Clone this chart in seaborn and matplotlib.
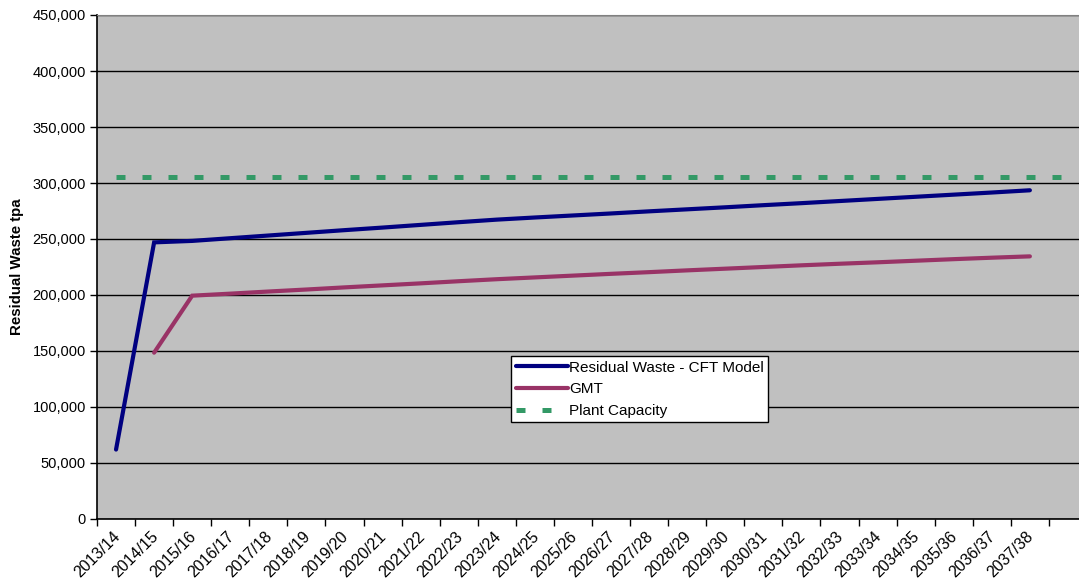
import matplotlib
matplotlib.use("Agg")
import matplotlib.pyplot as plt
from matplotlib.ticker import FuncFormatter, FixedLocator
import numpy as np
import pandas as pd
import seaborn as sns

# Financial years on the category axis (last slot has no label)
years = ["2013/14", "2014/15", "2015/16", "2016/17", "2017/18", "2018/19",
         "2019/20", "2020/21", "2021/22", "2022/23", "2023/24", "2024/25",
         "2025/26", "2026/27", "2027/28", "2028/29", "2029/30", "2030/31",
         "2031/32", "2032/33", "2033/34", "2034/35", "2035/36", "2036/37",
         "2037/38", ""]

residual_cft = [62000, 247000, 248300, 250700, 253100, 255500, 257900, 260200,
                262600, 265000, 267300, 269200, 271000, 272800, 274700, 276500,
                278300, 280200, 282000, 283900, 285800, 287700, 289600, 291500,
                293500]

gmt = [None, 148500, 199400, 201200, 203100, 204900, 206800, 208600, 210400,
       212300, 214100, 215700, 217300, 218900, 220400, 222000, 223500, 225000,
       226500, 227900, 229200, 230600, 232000, 233300, 234500]

plant_capacity = [305000] * 26

series_names = ["Residual Waste - CFT Model", "GMT", "Plant Capacity"]
series_values = [residual_cft, gmt, plant_capacity]
colors = ["#000080", "#993366", "#339966"]

rows = []
for name, vals in zip(series_names, series_values):
    for i, v in enumerate(vals):
        if v is not None:
            rows.append({"pos": i + 0.5, "year": years[i], "value": v, "series": name})
df = pd.DataFrame(rows)

plt.rcParams["font.family"] = ["Liberation Sans", "DejaVu Sans"]

fig = plt.figure(figsize=(10.79, 5.83), dpi=100)
ax = fig.add_axes([97 / 1079, 64 / 583, 990 / 1079, 504 / 583])
ax.set_facecolor("#C0C0C0")

for name, color in zip(series_names, colors):
    sub = df[df["series"] == name]
    if name == "Plant Capacity":
        sns.lineplot(data=sub, x="pos", y="value", ax=ax, color=color,
                     linewidth=3.6, label=name, dashes=False, estimator=None)
        ax.lines[-1].set_dashes([1.8, 3.4])
        ax.lines[-1].set_dash_capstyle("butt")
    else:
        sns.lineplot(data=sub, x="pos", y="value", ax=ax, color=color,
                     linewidth=3.0, label=name, estimator=None)
        ax.lines[-1].set_solid_capstyle("round")
        ax.lines[-1].set_solid_joinstyle("miter")

ax.set_xlim(0, len(years))
ax.set_ylim(0, 450000)

# Category boundaries carry the tick marks, labels sit at category centres
ax.xaxis.set_major_locator(FixedLocator(np.arange(0, len(years) + 1)))
ax.xaxis.set_minor_locator(FixedLocator(np.arange(len(years)) + 0.4))
ax.set_xticklabels([""] * (len(years) + 1))
ax.set_xticklabels(years, minor=True, rotation=45, ha="right",
                   rotation_mode="anchor", fontsize=11.5)
ax.tick_params(axis="x", which="major", length=5, width=1, color="black", direction="out")
ax.tick_params(axis="x", which="minor", length=0, pad=7)

ax.set_yticks(np.arange(0, 450001, 50000))
ax.yaxis.set_major_formatter(FuncFormatter(lambda v, p: f"{int(v):,}"))
ax.tick_params(axis="y", length=5, width=1, color="black", labelsize=10.5, pad=3)

ax.grid(axis="y", color="black", linewidth=1.0)
ax.grid(axis="x", visible=False)
ax.set_axisbelow(True)

ax.set_xlabel("")
ax.set_ylabel("Residual Waste tpa", fontsize=10.8, fontweight="bold", labelpad=6)

for side in ["left", "bottom"]:
    ax.spines[side].set_color("black")
    ax.spines[side].set_linewidth(1.2)
ax.spines["top"].set_color("#808080")
ax.spines["right"].set_visible(False)

leg = ax.legend(loc="upper left", bbox_to_anchor=((511 - 97) / 990, (519 - 356) / 504),
                frameon=True, fancybox=False, framealpha=1, edgecolor="black",
                facecolor="white", fontsize=11, handlelength=3.4, handletextpad=0.1,
                borderpad=0.3, labelspacing=0.5, borderaxespad=0)
leg.get_frame().set_linewidth(1.0)

fig.savefig("out.png", dpi=100)
